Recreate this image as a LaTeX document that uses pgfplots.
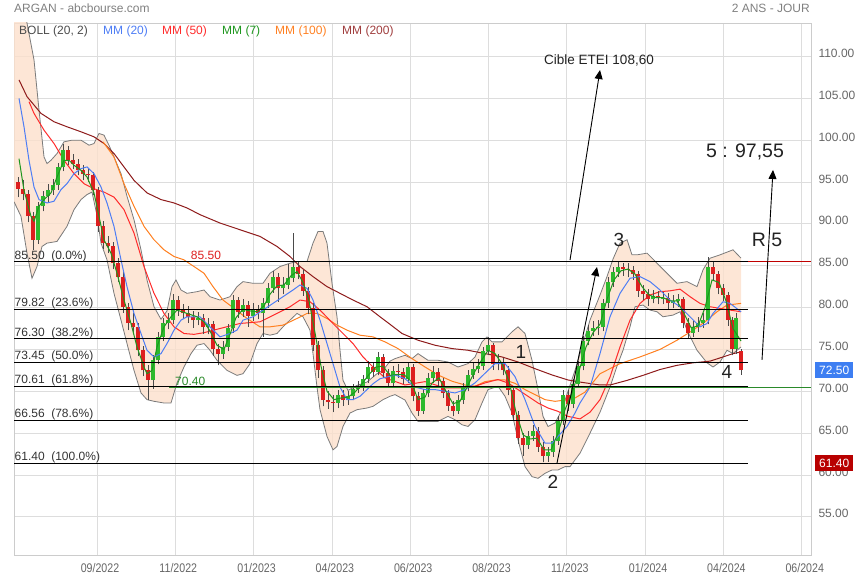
\documentclass[border=0pt]{standalone}
\usepackage{pgfplots}
\pgfplotsset{compat=1.18}
\usepackage{pgfplotstable}
\usepgfplotslibrary{fillbetween}
\usetikzlibrary{arrows.meta}
\usepackage{fontspec}
\setmainfont{Liberation Sans}
\newfontfamily\narrowfont[FakeStretch=0.85]{Liberation Sans}

\definecolor{gridc}{HTML}{DDDDDD}
\definecolor{framec}{HTML}{CCCCCC}
\definecolor{tickc}{HTML}{666666}
\definecolor{titlec}{HTML}{808080}
\definecolor{bandfillc}{HTML}{FCE0CC}
\definecolor{bandline}{HTML}{7A7A7A}
\definecolor{mmA}{HTML}{4D7DF5}
\definecolor{mmB}{HTML}{FF2B2B}
\definecolor{mmC}{HTML}{1E961E}
\definecolor{mmD}{HTML}{FF8021}
\definecolor{mmE}{HTML}{8E1B1B}
\definecolor{candup}{HTML}{2DB92D}
\definecolor{canddn}{HTML}{DD1F1F}
\definecolor{wick}{HTML}{4A4A4A}
\definecolor{boxblue}{HTML}{3D7EF2}
\definecolor{boxred}{HTML}{B80000}
\definecolor{fibred}{HTML}{C00000}
\definecolor{greenline}{HTML}{2A8A2A}
\definecolor{txt}{HTML}{222222}
\definecolor{fibtxt}{HTML}{333333}

% candles: x o h l c
\pgfplotstableread{
x o h l c
18 95.0 95.6 93.2 94.2
23 94.2 95.2 92.8 93.6
28 93.6 94.0 90.2 90.9
33 90.9 91.4 86.9 88.1
38 88.1 92.6 87.6 92.1
43 92.1 93.9 91.5 93.3
48 93.3 94.8 92.6 94.1
53 94.1 95.4 93.5 94.6
58 94.6 97.3 94.1 96.8
63 96.8 99.6 96.3 98.8
68 98.8 99.3 97.0 97.6
73 97.6 98.4 96.5 97.2
78 97.2 97.8 95.8 96.4
83 96.4 97.0 95.2 96.0
88 96.0 96.7 95.0 95.8
93 95.8 96.2 93.4 94.0
98 94.0 94.4 89.0 89.7
103 89.7 90.3 87.0 87.7
108 87.7 88.5 86.5 87.3
113 87.3 87.8 84.6 85.3
118 85.3 85.9 83.0 83.7
123 83.7 84.2 79.4 80.1
128 80.1 80.6 77.3 78.1
133 78.1 79.3 76.8 77.7
138 77.7 78.2 74.2 74.9
143 74.9 75.4 71.8 72.5
148 72.5 73.1 68.9 71.4
153 71.4 74.3 70.3 73.7
158 73.7 77.1 73.2 76.5
163 76.5 78.8 76.0 78.1
168 78.1 79.3 77.4 78.5
173 78.5 81.6 78.0 80.9
178 80.9 81.4 79.0 79.7
183 79.7 80.4 78.6 79.3
188 79.3 80.2 78.2 78.9
193 78.9 79.6 77.6 78.5
198 78.5 79.5 77.9 78.7
203 78.7 79.2 76.9 77.7
208 77.7 78.8 76.8 78.0
213 78.0 78.4 74.2 75.0
218 75.0 75.7 73.1 74.5
223 74.5 76.0 73.9 75.3
228 75.3 78.0 74.8 77.5
233 77.5 81.5 77.0 80.9
238 80.9 81.3 78.8 79.5
243 79.5 81.0 78.9 80.3
248 80.3 80.8 77.7 79.0
253 79.0 80.5 78.4 79.7
258 79.7 80.3 78.6 79.3
263 79.3 81.1 76.5 80.5
268 80.5 82.9 80.0 82.3
273 82.3 84.4 81.8 83.7
278 83.7 84.1 80.7 82.3
283 82.3 83.6 81.6 82.7
288 82.7 85.2 82.2 83.5
293 83.5 88.9 83.0 84.9
298 84.9 85.6 83.4 84.0
303 84.0 84.5 81.4 82.0
308 82.0 82.5 79.2 80.0
313 80.0 80.5 74.8 75.5
318 75.5 76.0 71.6 72.5
323 72.5 73.0 68.2 69.0
328 69.0 70.0 67.9 68.7
333 68.7 69.5 67.5 68.6
338 68.6 70.2 68.0 69.6
343 69.6 70.1 68.3 69.0
348 69.0 70.0 68.4 69.4
353 69.4 70.9 68.9 70.3
358 70.3 71.2 69.8 70.5
363 70.5 72.0 70.0 71.5
368 71.5 73.6 71.0 72.9
373 72.9 73.5 71.7 72.3
378 72.3 74.7 71.9 74.1
383 74.1 74.5 71.6 72.2
388 72.2 72.7 70.4 71.0
393 71.0 73.0 70.6 72.4
398 72.4 73.2 71.6 72.3
403 72.3 72.8 70.9 71.5
408 71.5 73.5 71.0 72.9
413 72.9 73.2 68.8 69.4
418 69.4 69.9 67.1 67.7
423 67.7 70.3 67.3 69.8
428 69.8 72.2 69.3 71.6
433 71.6 73.0 71.0 72.3
438 72.3 72.8 70.6 71.2
443 71.2 71.6 69.2 69.8
448 69.8 70.2 67.7 68.3
453 68.3 68.8 67.0 67.7
458 67.7 69.5 67.3 68.9
463 68.9 71.0 68.5 70.5
468 70.5 72.6 70.0 72.0
473 72.0 73.4 71.5 72.7
478 72.7 73.9 72.2 73.0
483 73.0 75.3 72.6 74.8
488 74.8 76.5 74.3 75.5
493 75.5 75.8 72.6 73.2
498 73.2 74.4 72.5 73.4
503 73.4 74.0 71.9 72.6
508 72.6 73.0 69.5 70.2
513 70.2 70.6 66.5 67.2
518 67.2 67.6 63.7 64.4
523 64.4 65.0 62.3 63.6
528 63.6 65.2 63.1 64.6
533 64.6 66.0 64.1 65.3
538 65.3 65.7 62.8 63.4
543 63.4 63.9 61.5 62.3
548 62.3 63.4 61.6 62.7
553 62.7 64.6 62.2 64.0
558 64.0 67.0 63.6 66.5
563 66.5 70.1 66.0 69.6
568 69.6 70.2 67.7 68.5
573 68.5 71.5 68.0 70.9
578 70.9 73.6 70.4 73.0
583 73.0 76.6 72.5 76.0
588 76.0 77.9 75.5 77.2
593 77.2 78.4 76.6 77.5
598 77.5 78.5 76.7 77.7
603 77.7 81.0 77.2 80.5
608 80.5 83.6 80.0 83.0
613 83.0 84.9 82.5 84.2
618 84.2 85.4 83.7 84.8
623 84.8 85.3 83.8 84.6
628 84.6 85.3 83.6 84.5
633 84.5 85.0 83.3 84.0
638 84.0 84.4 81.3 82.0
643 82.0 82.7 80.9 81.6
648 81.6 82.2 80.2 81.0
653 81.0 82.1 80.5 81.4
658 81.4 82.0 80.4 81.1
663 81.1 81.9 80.4 81.2
668 81.2 81.7 79.8 80.5
673 80.5 81.5 79.9 80.8
678 80.8 81.6 80.1 81.0
683 81.0 81.3 77.5 78.2
688 78.2 78.7 76.3 77.0
693 77.0 78.4 76.5 77.7
698 77.7 78.9 77.1 78.2
703 78.2 79.4 77.6 78.5
708 78.5 86.1 78.0 84.8
713 84.8 85.6 83.3 84.0
718 84.0 84.4 81.6 82.3
723 82.3 82.8 80.8 81.5
728 81.5 81.9 77.8 78.5
732 78.5 78.9 74.3 75.0
736 75.0 79.3 74.5 78.8
741 74.8 75.0 72.0 72.5
}\candles

\pgfplotstableread{
x v
14 120
20 117
27 114
34 109.6
39 103.6
44 98.0
47 97.2
51 97.6
57 98.4
64 99.8
72 100.0
81 100.0
89 99.4
94 99.6
99 100.8
104 100.6
109 99.4
114 98.0
121 96.0
127 93.3
134 90.5
141 86.9
147 83.3
154 80.1
161 78.6
167 79.6
172 82.5
176 83.3
181 82.1
187 81.7
197 81.9
204 82.1
210 81.3
220 80.9
230 81.3
237 82.5
243 83.1
253 82.9
263 82.9
270 84.1
280 84.9
290 85.3
297 85.5
307 85.5
313 87.7
318 89.1
323 89.1
327 87.7
332 82.9
337 78.9
340 74.9
343 71.3
348 70.1
357 70.7
367 71.1
377 72.1
383 72.5
390 73.6
395 73.9
405 74.3
412 73.9
418 74.5
428 73.7
438 73.7
448 73.5
458 72.9
468 73.3
475 74.1
482 75.9
487 76.5
492 75.9
502 75.9
512 77.1
518 77.7
525 76.9
532 73.7
538 70.2
543 67.0
548 65.8
555 66.2
562 67.8
568 70.0
575 72.5
580 74.5
590 78.5
600 81.5
607 83.7
613 85.8
620 87.7
627 88.1
632 86.3
637 86.3
647 86.5
657 85.3
667 84.1
677 82.9
687 83.1
697 82.5
703 84.5
710 85.9
720 86.3
733 86.9
741 85.9
}\bollup

\pgfplotstableread{
x v
14 92.65
21 90.9
27 86.5
32 83.5
37 84.9
42 87.3
47 87.7
57 87.9
67 89.7
74 91.7
81 92.9
87 93.5
92 93.8
97 91.0
101 87.7
107 85.7
114 81.7
121 78.5
127 75.7
134 72.5
141 69.8
147 69.0
154 68.8
164 68.6
171 68.6
177 71.0
184 72.9
191 74.5
197 75.5
204 75.7
210 74.9
217 73.7
227 72.5
237 71.9
243 72.1
250 73.3
257 75.7
263 76.9
270 76.7
277 76.9
283 77.7
290 78.5
297 79.3
303 78.9
310 77.3
313 74.5
317 70.5
320 67.8
327 64.6
333 63.0
337 63.4
343 65.8
350 67.4
357 67.8
367 68.0
373 68.2
383 69.0
390 69.4
395 69.6
405 68.95
412 67.4
418 66.4
428 66.4
438 66.4
448 67.0
455 66.6
462 66.0
468 65.8
475 66.6
482 68.6
488 70.2
498 70.6
505 69.4
512 67.4
518 64.2
525 61.0
532 59.8
538 59.6
545 60.2
552 60.6
558 60.6
565 61.0
570 61.0
580 62.6
590 65.0
600 67.5
610 70.5
617 73.0
623 74.9
630 77.7
635 80.1
643 80.3
650 79.7
657 79.5
663 78.9
673 79.1
680 79.5
687 77.3
697 74.9
707 73.4
713 72.9
720 73.5
727 74.9
733 74.5
741 75.3
}\bolllo

\pgfplotstableread{
x v
19 105.0
24 101.6
29 97.6
34 94.4
39 92.9
47 92.5
54 92.7
61 94.1
67 94.8
74 96.0
81 96.6
87 96.8
94 96.0
101 94.4
107 92.5
114 89.7
121 85.7
127 82.5
134 79.3
141 76.9
147 74.9
154 74.1
161 74.5
167 75.7
174 77.3
181 78.5
187 78.9
194 78.9
200 78.9
210 77.7
220 76.5
230 76.9
237 77.3
243 78.5
253 78.9
263 79.7
273 80.5
283 81.3
293 82.1
300 82.7
307 82.3
313 80.9
320 78.5
327 75.7
333 73.3
340 70.5
347 69.0
353 69.0
360 69.4
367 70.2
373 70.9
380 71.5
390 71.8
395 71.95
405 71.5
415 70.5
425 70.2
435 70.2
445 70.0
455 69.8
465 70.2
475 71.0
485 72.15
495 73.3
505 73.3
515 71.75
525 69.0
535 65.8
545 63.8
552 63.8
558 64.6
567 65.8
575 67.4
580 68.6
590 70.5
600 74.5
610 78.9
620 81.7
630 83.5
640 83.7
650 83.1
660 82.1
670 80.9
680 80.1
690 78.9
700 77.7
707 78.1
713 79.3
723 80.7
730 80.5
741 79.5
}\mmtwenty

\pgfplotstableread{
x v
29 104.6
34 103.2
44 101.2
54 99.6
64 97.6
74 96.0
84 94.8
94 94.2
104 93.8
114 93.2
124 91.7
134 88.9
144 84.9
154 81.7
164 79.3
174 77.7
184 76.9
194 76.8
204 77.0
220 77.5
240 78.1
260 78.3
277 79.3
290 80.1
300 80.9
310 80.7
320 79.7
333 78.1
343 76.9
353 75.7
363 74.1
373 72.9
385 71.6
405 70.75
425 71.15
445 70.4
465 70.4
475 70.6
485 71.0
498 71.4
508 71.0
518 70.2
528 69.4
538 68.6
548 68.0
558 67.6
568 67.0
580 66.7
590 67.5
600 69.0
610 71.7
620 75.3
630 78.5
640 80.5
650 81.5
660 81.9
670 82.0
680 82.2
690 81.3
700 80.5
710 80.1
720 79.9
730 79.7
741 79.5
}\mmfifty

\pgfplotstableread{
x v
19 97.8
24 94.0
31 90.9
34 90.3
39 92.1
44 92.9
51 93.7
57 95.6
64 97.6
69 97.6
74 97.0
81 96.4
87 95.6
94 93.7
99 90.9
104 88.1
111 86.5
117 84.1
124 80.9
131 78.1
137 75.3
144 72.9
147 72.1
152 72.5
157 75.3
164 77.7
171 78.9
177 79.7
187 79.3
197 78.9
204 78.3
210 77.2
217 75.5
224 75.0
230 76.8
236 78.8
243 79.8
250 79.6
257 79.5
264 80.2
270 81.6
277 82.6
284 82.7
291 83.8
297 84.3
303 83.0
309 80.8
315 77.0
321 73.0
327 70.0
334 69.0
341 69.2
348 69.3
355 69.9
362 70.9
369 72.0
376 72.9
383 73.0
390 71.9
397 72.0
404 72.0
411 71.2
418 69.0
425 69.3
432 71.0
439 71.6
446 70.0
453 68.5
460 68.8
467 70.5
474 72.2
481 73.6
488 74.9
495 74.5
502 73.3
509 71.2
516 67.5
523 64.8
530 64.3
537 64.4
544 63.0
551 63.0
558 65.0
565 67.8
572 69.8
579 72.4
586 75.3
593 77.0
600 78.0
607 81.0
614 83.3
621 84.4
628 84.6
635 84.0
642 82.5
649 81.5
656 81.2
663 81.2
670 80.8
677 80.8
684 79.3
691 77.6
698 77.8
705 80.0
712 83.3
719 83.0
726 80.8
733 77.5
741 76.0
}\mmseven

\pgfplotstableread{
x v
103 99.8
114 98.0
124 94.8
134 92.1
144 89.7
154 88.1
164 86.9
174 86.1
184 85.7
194 84.9
204 84.1
213 82.5
223 80.9
233 80.0
247 78.7
260 77.7
270 77.7
283 77.9
297 78.7
307 79.3
317 79.3
327 78.7
337 77.9
347 77.3
360 76.7
373 76.5
385 75.9
398 75.1
412 73.9
425 72.9
438 71.95
452 71.2
465 70.75
475 70.6
485 71.15
495 71.35
505 71.35
515 70.95
525 70.2
535 69.6
545 69.0
555 68.8
565 68.95
575 69.2
585 69.9
600 72.1
620 73.3
640 74.1
660 75.0
677 76.1
693 77.3
705 78.3
717 79.5
727 80.3
741 80.5
}\mmhundred

\pgfplotstableread{
x v
19 107.2
27 105.2
41 103.2
54 102.2
67 101.6
81 101.0
94 100.4
104 99.6
114 98.4
124 96.8
134 95.2
147 93.7
161 92.9
174 92.5
187 91.9
200 91.1
220 90.1
240 89.3
260 88.5
277 87.3
290 86.1
300 84.9
313 83.7
327 82.5
340 81.7
353 80.9
367 80.1
380 78.9
390 78.0
402 76.9
418 76.1
435 75.5
452 75.1
468 74.9
485 74.5
502 74.1
518 73.5
535 72.7
552 71.95
568 71.35
580 71.1
600 70.75
610 70.75
627 71.3
643 71.9
660 72.6
677 73.1
693 73.4
710 73.6
723 74.1
733 74.5
741 74.7
}\mmtwohundred

\begin{document}
\begin{tikzpicture}[x=1bp,y=1bp]
\begin{axis}[
  at={(0,0)}, anchor=south west,
  scale only axis, width=797bp, height=532bp,
  xmin=14, xmax=811, ymin=50.44, ymax=114,
  axis line style={draw=framec, line width=0.8bp},
  grid=major, major grid style={draw=gridc, line width=0.8bp},
  tick style={draw=none},
  xtick={97,175.3,253.6,331.9,410.2,488.5,566.8,645.1,723.4,801.7},
  xticklabels={09/2022,11/2022,01/2023,04/2023,06/2023,08/2023,11/2023,01/2024,04/2024,06/2024},
  xticklabel style={font=\narrowfont\fontsize{12.5bp}{14bp}\selectfont, text=tickc, anchor=center, yshift=-13bp, xshift=3bp},
  ytick={55,60,...,110},
  yticklabel pos=right,
  yticklabel style={font=\fontsize{12bp}{14bp}\selectfont, text=tickc, anchor=west, xshift=4bp, yshift=3bp,
    /pgf/number format/.cd, fixed, fixed zerofill, precision=2, assume math mode=true},
]
% Bollinger band
\addplot[name path=bu, draw=none, forget plot] table[x=x,y=v] {\bollup};
\addplot[name path=bl, draw=none, forget plot] table[x=x,y=v] {\bolllo};
\addplot[fill=bandfillc, fill opacity=0.8, draw=none, forget plot] fill between[of=bu and bl];
\addplot[bandline, line width=0.8bp, forget plot] table[x=x,y=v] {\bollup};
\addplot[bandline, line width=0.8bp, forget plot] table[x=x,y=v] {\bolllo};

% moving averages (long ones under candles)
\addplot[mmE, line width=1bp, forget plot] table[x=x,y=v] {\mmtwohundred};
\addplot[mmD, line width=1bp, forget plot] table[x=x,y=v] {\mmhundred};
\addplot[mmB, line width=1bp, forget plot] table[x=x,y=v] {\mmfifty};

% candles: wicks then bodies
\addplot[only marks, mark size=0pt, mark options={draw=none,fill=none}, forget plot,
  error bars/.cd, y dir=plus, y explicit, error mark=none,
  error bar style={draw=wick, line width=0.9bp}]
  table[x=x, y=l, y error expr=\thisrow{h}-\thisrow{l}] {\candles};
\addplot[only marks, mark size=0pt, mark options={draw=none,fill=none}, forget plot,
  error bars/.cd, y dir=plus, y explicit, error mark=none,
  error bar style={draw=candup, line width=3.8bp}]
  table[x=x, y expr={\thisrow{c}>=\thisrow{o} ? \thisrow{o} : nan}, y error expr=\thisrow{c}-\thisrow{o}] {\candles};
\addplot[only marks, mark size=0pt, mark options={draw=none,fill=none}, forget plot,
  error bars/.cd, y dir=plus, y explicit, error mark=none,
  error bar style={draw=canddn, line width=3.8bp}]
  table[x=x, y expr={\thisrow{c}<\thisrow{o} ? \thisrow{c} : nan}, y error expr=\thisrow{o}-\thisrow{c}] {\candles};

\addplot[mmA, line width=1bp, forget plot] table[x=x,y=v] {\mmtwenty};
\addplot[mmC, line width=1bp, forget plot] table[x=x,y=v] {\mmseven};

% Fibonacci levels
\addplot[black, line width=1bp, forget plot] coordinates {(14,85.50) (748,85.50)};
\addplot[fibred, line width=1bp, forget plot] coordinates {(748,85.50) (811,85.50)};
\addplot[black, line width=1bp, forget plot] coordinates {(14,79.82) (748,79.82)};
\addplot[black, line width=1bp, forget plot] coordinates {(14,76.30) (748,76.30)};
\addplot[black, line width=1bp, forget plot] coordinates {(14,73.45) (748,73.45)};
\addplot[black, line width=1bp, forget plot] coordinates {(14,70.61) (748,70.61)};
\addplot[black, line width=1bp, forget plot] coordinates {(14,66.56) (748,66.56)};
\addplot[black, line width=1bp, forget plot] coordinates {(14,61.40) (748,61.40)};
\addplot[greenline, line width=1bp, forget plot] coordinates {(169,70.40) (811,70.40)};

\begin{scope}[every node/.style={inner sep=0pt, font=\fontsize{12bp}{14bp}\selectfont, text=fibtxt}]
\node[anchor=base west, yshift=2.5bp, xshift=0.5bp] at (axis cs:14,85.50) {85.50\hspace{0.55em}(0.0\%)};
\node[anchor=base west, yshift=2.5bp, xshift=0.5bp] at (axis cs:14,79.82) {79.82\hspace{0.55em}(23.6\%)};
\node[anchor=base west, yshift=2.5bp, xshift=0.5bp] at (axis cs:14,76.30) {76.30\hspace{0.55em}(38.2\%)};
\node[anchor=base west, yshift=2.5bp, xshift=0.5bp] at (axis cs:14,73.45) {73.45\hspace{0.55em}(50.0\%)};
\node[anchor=base west, yshift=2.5bp, xshift=0.5bp] at (axis cs:14,70.61) {70.61\hspace{0.55em}(61.8\%)};
\node[anchor=base west, yshift=2.5bp, xshift=0.5bp] at (axis cs:14,66.56) {66.56\hspace{0.55em}(78.6\%)};
\node[anchor=base west, yshift=2.5bp, xshift=0.5bp] at (axis cs:14,61.40) {61.40\hspace{0.55em}(100.0\%)};
\node[anchor=base, yshift=2.5bp, text=canddn] at (axis cs:206,85.50) {85.50};
\node[anchor=base west, yshift=2.5bp, text=greenline] at (axis cs:175,70.40) {70.40};
\end{scope}

% arrows
\draw[black, line width=0.9bp, -{Triangle[length=9bp,width=8bp]}] (axis cs:570,85.68) -- (axis cs:600,108.38);
\draw[black, line width=0.9bp, -{Triangle[length=9bp,width=8bp]}] (axis cs:557,61.43) -- (axis cs:597,84.85);
\draw[black, line width=0.9bp, -{Triangle[length=9bp,width=8bp]}] (axis cs:762,73.74) -- (axis cs:773,96.44);

\begin{scope}[every node/.style={inner sep=0pt, text=txt}]
\node[font=\fontsize{13.5bp}{16bp}\selectfont] at (axis cs:599,109.58) {Cible ETEI 108,60};
\node[font=\fontsize{19.5bp}{22bp}\selectfont] at (axis cs:745,98.59) {5 : 97,55};
\node[font=\fontsize{19.5bp}{22bp}\selectfont] at (axis cs:767,88.07) {R 5};
\node[font=\fontsize{19bp}{22bp}\selectfont] at (axis cs:619,88.07) {3};
\node[font=\fontsize{19bp}{22bp}\selectfont] at (axis cs:521,74.69) {1};
\node[font=\fontsize{19bp}{22bp}\selectfont] at (axis cs:553,59.16) {2};
\node[font=\fontsize{19bp}{22bp}\selectfont] at (axis cs:727,72.30) {4};
\end{scope}

\coordinate (bA) at (axis cs:811,72.50);
\coordinate (bB) at (axis cs:811,61.40);
\end{axis}

% price boxes
\node[anchor=west, xshift=4bp, fill=boxblue, text=white, inner xsep=4bp, inner ysep=0pt, minimum height=16bp,
  font=\fontsize{12bp}{14bp}\selectfont] at (bA) {72.50};
\node[anchor=west, xshift=4bp, fill=boxred, text=white, inner xsep=4bp, inner ysep=0pt, minimum height=16bp,
  font=\fontsize{12bp}{14bp}\selectfont] at (bB) {61.40};

% title
\node[anchor=west, inner sep=0pt, text=titlec, font=\fontsize{12bp}{14bp}\selectfont] at (0,547) {ARGAN - abcbourse.com};
\node[anchor=east, inner sep=0pt, text=titlec, font=\fontsize{12bp}{14bp}\selectfont] at (796,547) {2 ANS - JOUR};

% legend
\begin{scope}[every node/.style={anchor=west, inner sep=0pt, font=\fontsize{12bp}{14bp}\selectfont}]
\node[text=black!70] at (5,524) {BOLL (20, 2)};
\node[text=mmA] at (89,524) {MM (20)};
\node[text=mmB] at (148,524) {MM (50)};
\node[text=mmC] at (208,524) {MM (7)};
\node[text=mmD] at (261,524) {MM (100)};
\node[text=mmE!85] at (328,524) {MM (200)};
\end{scope}

\pgfresetboundingbox
\path[use as bounding box] (-14,-25) rectangle (846,555);
\end{tikzpicture}
\end{document}
